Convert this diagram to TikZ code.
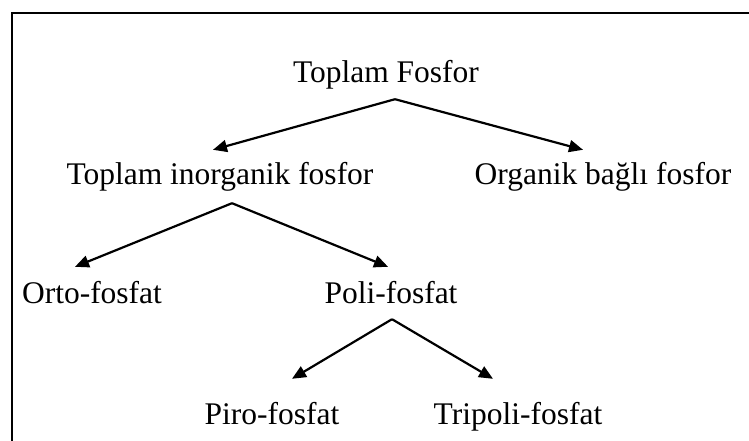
\documentclass[tikz,border=0pt]{standalone}
\usepackage{fontspec}
\setmainfont{Liberation Serif}
\usetikzlibrary{arrows.meta}

\begin{document}
\begin{tikzpicture}[x=1pt, y=-1pt,
    kind/.style ={inner sep=9pt, anchor=base, text height=22pt, text depth=7pt,
                  font=\fontsize{31.5}{36}\selectfont},
    branch/.style ={line width=2.2pt, -{Triangle[length=14pt,width=12pt]}}]
   \useasboundingbox (0,0) rectangle (749,441);
   \draw[line width=2pt] (12,441) -- (12,13) -- (749,13);

   \node[kind] (T) at (386,83)  {Toplam Fosfor};
   \node[kind] (I) at (220,184) {Toplam inorganik fosfor};
   \node[kind] (O) at (603,184) {Organik bağlı fosfor};
   \node[kind] (R) at (92,303)  {Orto-fosfat};
   \node[kind] (P) at (391,303) {Poli-fosfat};
   \node[kind] (Y) at (272,424) {Piro-fosfat};
   \node[kind] (Z) at (518,424) {Tripoli-fosfat};

   \draw[branch] ([xshift=9pt]T.south) to ([xshift=-7pt,yshift=3pt]I.north);
   \draw[branch] ([xshift=9pt]T.south) to ([xshift=-20pt,yshift=3pt]O.north);
   \draw[branch] ([xshift=12pt,yshift=-3pt]I.south) to ([xshift=-17pt,yshift=5pt]R.north);
   \draw[branch] ([xshift=12pt,yshift=-3pt]I.south) to ([xshift=-3pt,yshift=5pt]P.north);
   \draw[branch] ([xshift=1pt]P.south) to ([xshift=20pt,yshift=14pt]Y.north);
   \draw[branch] ([xshift=1pt]P.south) to ([xshift=-25pt,yshift=14pt]Z.north);
 \end{tikzpicture}
\end{document}
